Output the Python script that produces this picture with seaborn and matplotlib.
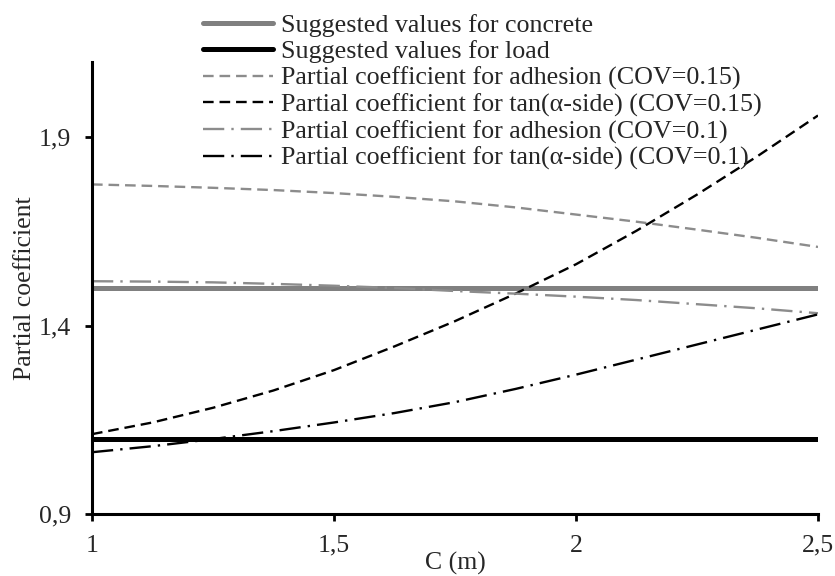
import numpy as np
import pandas as pd
import matplotlib
matplotlib.use("Agg")
import matplotlib.pyplot as plt
import seaborn as sns
from matplotlib.ticker import FuncFormatter

# Valeurs
c_m = [1.0, 1.125, 1.25, 1.375, 1.5, 1.625, 1.75, 1.875, 2.0, 2.125, 2.25, 2.375, 2.5]
concrete = [1.5] * 13
load = [1.1] * 13
adh_015 = [1.775, 1.771, 1.766, 1.760, 1.752, 1.742, 1.730, 1.714, 1.695, 1.676, 1.655, 1.633, 1.609]
tan_015 = [1.112, 1.143, 1.182, 1.228, 1.282, 1.345, 1.412, 1.485, 1.563, 1.652, 1.748, 1.850, 1.958]
adh_01 = [1.518, 1.517, 1.515, 1.511, 1.506, 1.500, 1.492, 1.485, 1.477, 1.468, 1.457, 1.446, 1.433]
tan_01 = [1.064, 1.080, 1.099, 1.120, 1.143, 1.168, 1.197, 1.232, 1.270, 1.310, 1.350, 1.390, 1.430]

labels = [
    "Suggested values for concrete",
    "Suggested values for load",
    "Partial coefficient for adhesion (COV=0.15)",
    "Partial coefficient for tan(\u03b1-side) (COV=0.15)",
    "Partial coefficient for adhesion (COV=0.1)",
    "Partial coefficient for tan(\u03b1-side) (COV=0.1)",
]

sns.set_style("ticks")
plt.rcParams["font.family"] = ["Liberation Serif", "DejaVu Serif"]

fig = plt.figure(figsize=(8.35, 5.76), dpi=100)
ax = fig.add_axes([92 / 835, 62 / 576, 726 / 835, 452 / 576])

grey = "#808080"
series = [
    (concrete, grey, 3.6, "-"),
    (load, "black", 3.6, "-"),
    (adh_015, "#8c8c8c", 1.7, (0, (4.5, 2.5))),
    (tan_015, "black", 1.7, (0, (4.5, 2.5))),
    (adh_01, "#8c8c8c", 1.7, (0, (9, 3, 1, 3))),
    (tan_01, "black", 1.7, (0, (9, 3, 1, 3))),
]
for (vals, col, lw, ls), lab in zip(series, labels):
    sns.lineplot(x=c_m, y=vals, ax=ax, color=col, linewidth=lw,
                 linestyle=ls, label=lab)

ax.set_xlim(1, 2.5)
ax.set_ylim(0.9, 2.1)
ax.set_xticks([1, 1.5, 2, 2.5])
ax.set_yticks([0.9, 1.4, 1.9])
comma = FuncFormatter(lambda v, p: f"{v:g}".replace(".", ","))
ax.xaxis.set_major_formatter(comma)
ax.yaxis.set_major_formatter(comma)
ax.tick_params(labelsize=18.5, width=2, length=5, color="black", pad=10)
for s in ["left", "bottom"]:
    ax.spines[s].set_linewidth(2.2)
    ax.spines[s].set_color("black")
sns.despine(ax=ax)

ax.set_xlabel("C (m)", fontsize=18.5, labelpad=-3.5)
ax.set_ylabel("Partial coefficient", fontsize=18.5, labelpad=2)

ax.legend(loc="upper left", bbox_to_anchor=(203 / 835, 1 - 14 / 576),
          bbox_transform=fig.transFigure, frameon=False, fontsize=18.7,
          borderpad=0, borderaxespad=0, labelspacing=0.12,
          handlelength=2.7, handletextpad=0.3)

fig.savefig("out.png", dpi=100)
